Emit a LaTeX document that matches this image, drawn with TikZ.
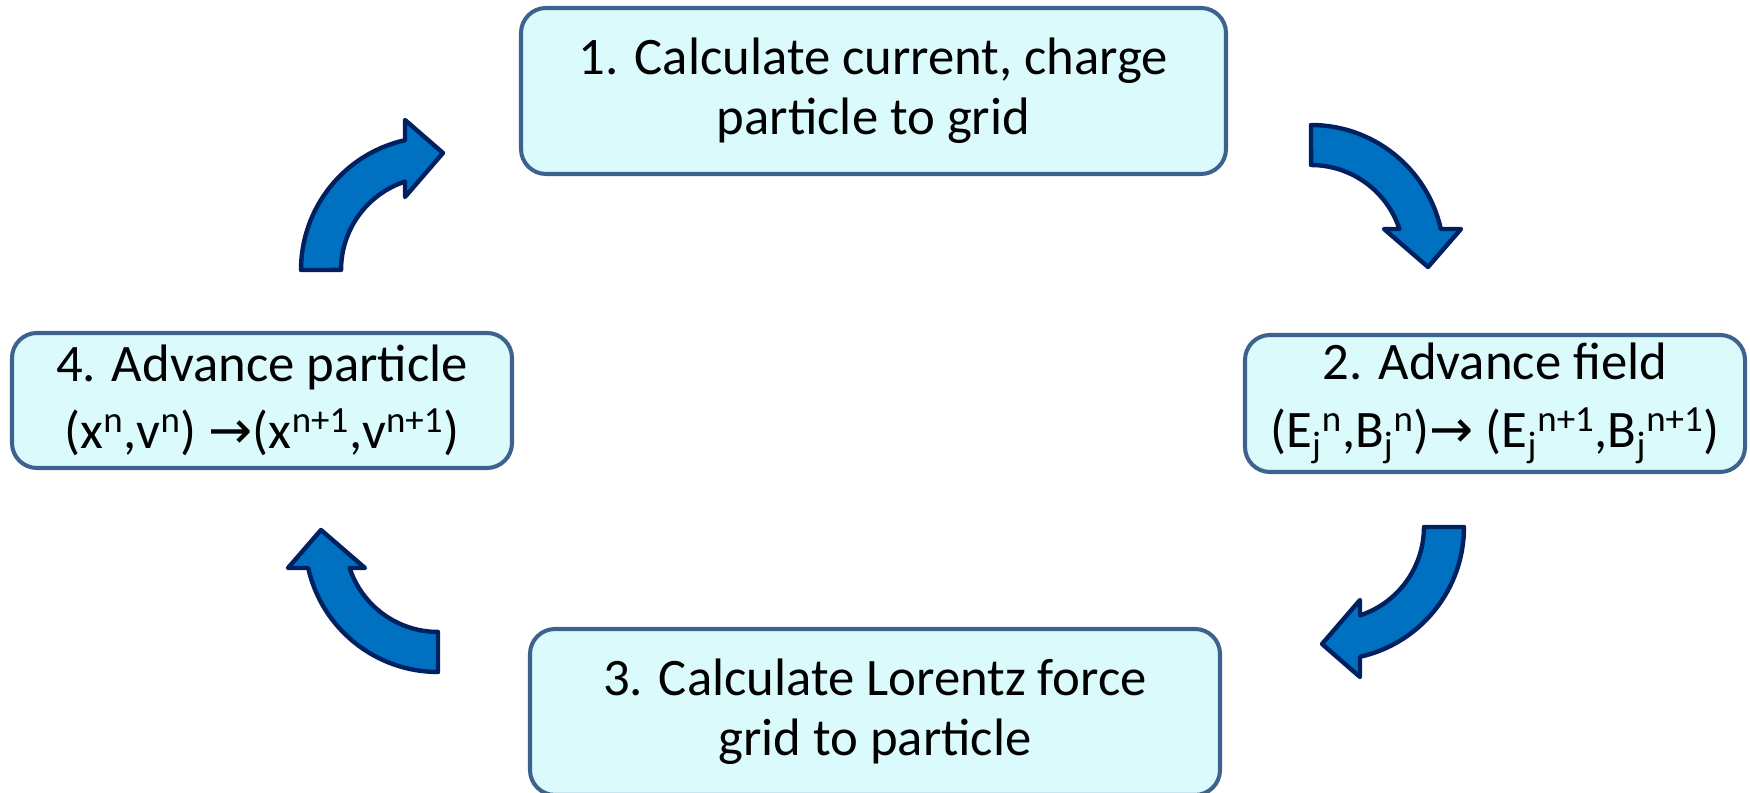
\documentclass[tikz,border=0pt]{standalone}
\usepackage{fontspec}
\setmainfont{Carlito}
\newfontfamily\arrowfont{DejaVu Sans}
\usetikzlibrary{positioning}
\definecolor{boxfill}{RGB}{218,250,251}
\definecolor{boxline}{RGB}{62,98,142}
\definecolor{arrowblue}{RGB}{0,112,192}
\definecolor{arrowline}{RGB}{0,32,96}
\newcommand{\goesto}{{\arrowfont →}}

\tikzset{
  stagebox/.style={draw=boxline,fill=boxfill,line width=2.3pt,
    rounded corners=0.5cm,inner sep=0pt,align=center,
    font=\fontsize{30}{34}\selectfont},
  bentarrow/.pic={
    \filldraw[fill=arrowblue,draw=arrowline,line width=2.5pt,line join=round]
      (180:133) arc[start angle=180,end angle=102.6,radius=133]
      -- (-29,150) -- (9,117) -- (-29,73) -- (-29,88.4)
      arc[start angle=108.2,end angle=180,radius=93] -- cycle;
  }
}

\begin{document}
\begin{tikzpicture}[x=0.02cm,y=0.02cm]
  \useasboundingbox (0,0) rectangle (1750,793);
  % the four stages
  \node[stagebox,minimum width=705*0.02cm,minimum height=166*0.02cm]
    (charge) at (873.5,702) {1. Calculate current, charge\\particle to grid};
  \node[stagebox,minimum width=500*0.02cm,minimum height=137*0.02cm]
    (field) at (1495,389.5) {2. Advance field\\[0.15cm]
      (E\textsubscript{j}\textsuperscript{n},B\textsubscript{j}\textsuperscript{n})\goesto{}
      (E\textsubscript{j}\textsuperscript{n+1},B\textsubscript{j}\textsuperscript{n+1})};
  \node[stagebox,minimum width=690*0.02cm,minimum height=166*0.02cm]
    (force) at (875,81) {3. Calculate Lorentz force\\grid to particle};
  \node[stagebox,minimum width=500*0.02cm,minimum height=135*0.02cm]
    (push) at (262,392.5) {4. Advance particle\\[0.15cm]
      (x\textsuperscript{n},v\textsuperscript{n}) \goesto(x\textsuperscript{n+1},v\textsuperscript{n+1})};
  % cycle arrows
  \pic at (434,523) {bentarrow};
  \pic[rotate=-90] at (1311,535) {bentarrow};
  \pic[rotate=180] at (1331,266) {bentarrow};
  \pic[rotate=90] at (438,254) {bentarrow};
\end{tikzpicture}
\end{document}
